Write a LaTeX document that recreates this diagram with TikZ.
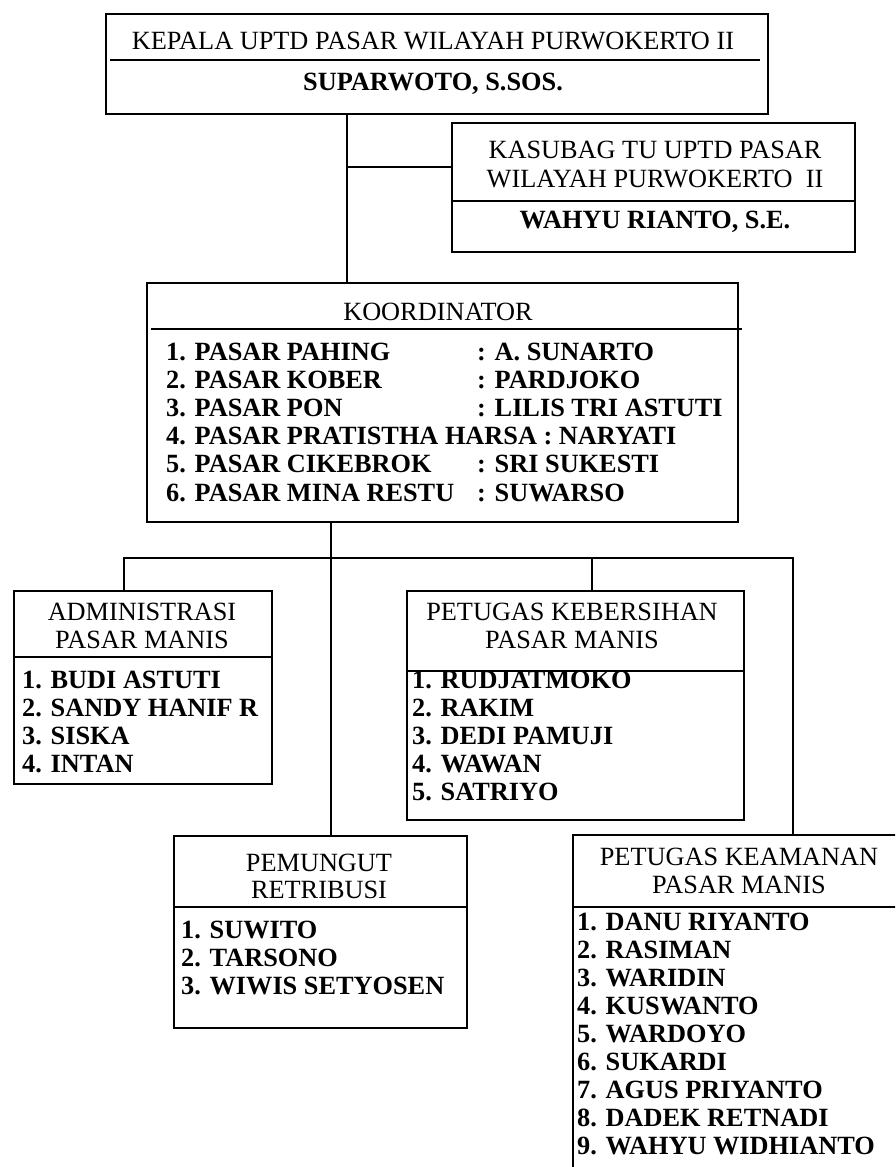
\documentclass[tikz,border=0pt]{standalone}
\usepackage{fontspec}
\setmainfont{Liberation Serif}
\usetikzlibrary{positioning}

\tikzset{
  box/.style={draw, line width=1.5pt, inner sep=0pt, outer sep=0pt},
  link/.style={draw, line width=1.5pt},
  ttl/.style={inner sep=0pt, anchor=base, font=\fontsize{26.3}{28}\selectfont},
  itm/.style={inner sep=0pt, anchor=base west, font=\bfseries\fontsize{26.3}{28}\selectfont}
}

\begin{document}
\begin{tikzpicture}[x=1pt, y=-1pt]
  \useasboundingbox (0,0) rectangle (895,1167);
  \clip (0,0) rectangle (895,1167);

  % boxes
  \node[box, minimum width=662pt, minimum height=100pt] (kepala) at (437,64) {};
  \node[box, minimum width=403pt, minimum height=129pt] (kasubag) at (653.5,187.5) {};
  \node[box, minimum width=591pt, minimum height=239pt] (koord) at (442.5,402.5) {};
  \node[box, minimum width=258pt, minimum height=193pt] (admin) at (143,687.5) {};
  \node[box, minimum width=337pt, minimum height=229pt] (bersih) at (575.5,705.5) {};
  \node[box, minimum width=293pt, minimum height=192pt] (pungut) at (320.5,932) {};
  \node[box, minimum width=332pt, minimum height=345pt] (aman) at (739,1007.5) {};

  % dividers
  \draw[box] ([xshift=4pt, yshift=-46pt]kepala.north west) -- ([xshift=-8pt, yshift=-46pt]kepala.north east);
  \draw[box] ([yshift=-78pt]kasubag.north west) -- ([yshift=-78pt]kasubag.north east);
  \draw[box] ([xshift=4pt, yshift=-46pt]koord.north west) -- ([xshift=4pt, yshift=-46pt]koord.north east);
  \draw[box] ([yshift=-66pt]admin.north west) -- ([yshift=-66pt]admin.north east);
  \draw[box] ([yshift=-71pt]pungut.north west) -- ([yshift=-71pt]pungut.north east);
  \draw[box] ([yshift=-72pt]aman.north west) -- ([yshift=-72pt]aman.north east);

  % kepala and kasubag
  \node[ttl] (kepala-t) at (433,49) {KEPALA UPTD PASAR WILAYAH PURWOKERTO II};
  \node[ttl, font=\bfseries\fontsize{26.3}{28}\selectfont] (kepala-n) at (433,90) {SUPARWOTO, S.SOS.};
  \node[ttl] (kasubag-t1) at (655,158) {KASUBAG TU UPTD PASAR};
  \node[ttl] (kasubag-t2) at (655,187) {WILAYAH PURWOKERTO\ \ II};
  \node[ttl, font=\bfseries\fontsize{26.3}{28}\selectfont] (kasubag-n) at (655,228) {WAHYU RIANTO, S.E.};

  % koordinator
  \node[ttl] (koord-t) at (438,320) {KOORDINATOR};
  \foreach \i/\pasar/\nama in {1/PASAR PAHING/A. SUNARTO, 2/PASAR KOBER/PARDJOKO,
      3/PASAR PON/LILIS TRI ASTUTI, 5/PASAR CIKEBROK/SRI SUKESTI, 6/PASAR MINA RESTU/SUWARSO} {
    \node[itm] (koord-p\i) at (166,{360+28.2*(\i-1)}) {\i. \pasar};
    \node[itm] (koord-n\i) at (477,{360+28.2*(\i-1)}) {: \nama};
  }
  \node[itm] (koord-p4) at (166,444.6) {4. PASAR PRATISTHA HARSA : NARYATI};

  % administrasi
  \node[ttl] (admin-t1) at (142,620) {ADMINISTRASI};
  \node[ttl] (admin-t2) at (142,648) {PASAR MANIS};
  \foreach \nama [count=\i] in {BUDI ASTUTI, SANDY HANIF R, SISKA, INTAN}
    \node[itm] (admin-\i) at (22,{688+28*(\i-1)}) {\i. \nama};

  % kebersihan
  \node[ttl] (bersih-t1) at (572,620) {PETUGAS KEBERSIHAN};
  \node[ttl] (bersih-t2) at (572,648) {PASAR MANIS};
  \foreach \nama [count=\i] in {RUDJATMOKO, RAKIM, DEDI PAMUJI, WAWAN, SATRIYO}
    \node[itm] (bersih-\i) at (412,{688+28*(\i-1)}) {\i. \nama};
  \draw[box] ([yshift=-80pt]bersih.north west) -- ([yshift=-80pt]bersih.north east);

  % pemungut
  \node[ttl] (pungut-t1) at (319,871) {PEMUNGUT};
  \node[ttl] (pungut-t2) at (319,898) {RETRIBUSI};
  \foreach \nama [count=\i] in {SUWITO, TARSONO, WIWIS SETYOSEN}
    \node[itm] (pungut-\i) at (181,{938+28*(\i-1)}) {\i. \nama};

  % keamanan
  \node[ttl] (aman-t1) at (739,865) {PETUGAS KEAMANAN};
  \node[ttl] (aman-t2) at (739,893) {PASAR MANIS};
  \foreach \nama [count=\i] in {DANU RIYANTO, RASIMAN, WARIDIN, KUSWANTO, WARDOYO,
      SUKARDI, AGUS PRIYANTO, DADEK RETNADI, WAHYU WIDHIANTO}
    \node[itm] (aman-\i) at (577,{930+28.1*(\i-1)}) {\i. \nama};

  % connectors
  \coordinate (spine) at (347,0);
  \coordinate (tu) at (347,167);
  \coordinate (bus) at (331,558);
  \draw[link] (kepala.south -| spine) -- (koord.north -| spine);
  \draw[link] (tu) -- (tu -| kasubag.west);
  \draw[link] (koord.south -| bus) -- (bus);
  \draw[link] ([xshift=-19pt]admin.north) |- (bus) -| ([xshift=54pt]aman.north);
  \draw[link] ([xshift=16.5pt]bersih.north) -- ([xshift=16.5pt]bersih.north |- bus);
  \draw[link] (bus) -- (pungut.north -| bus);
\end{tikzpicture}
\end{document}
